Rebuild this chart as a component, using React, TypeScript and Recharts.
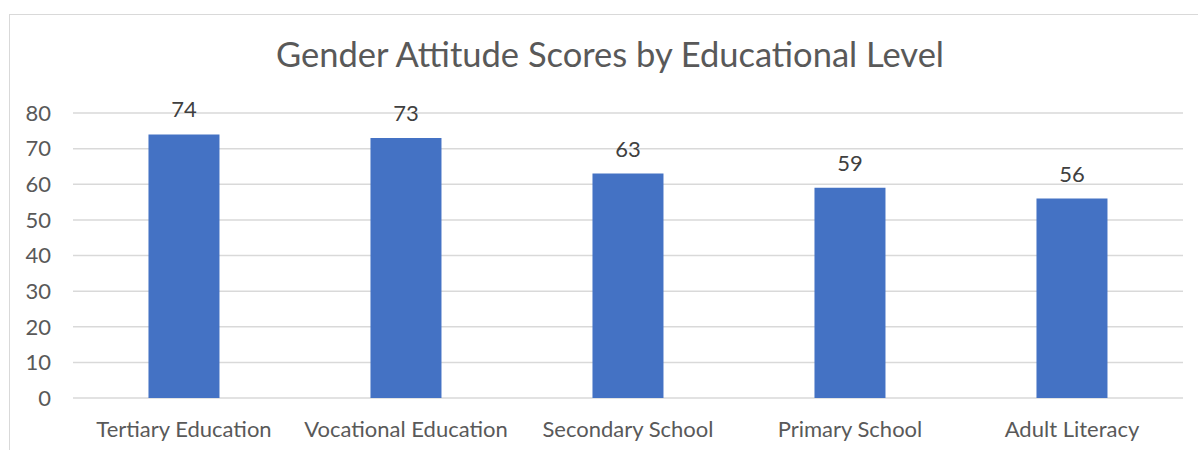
import { Bar, BarChart, CartesianGrid, LabelList, XAxis, YAxis } from 'recharts'

const levels = [
  'Tertiary Education',
  'Vocational Education',
  'Secondary School',
  'Primary School',
  'Adult Literacy',
]
const scores = [74, 73, 63, 59, 56]
const yTicks = [0, 10, 20, 30, 40, 50, 60, 70, 80]

const data = levels.map((level, i) => ({ level, score: scores[i] }))

const FONT = 'Lato, "Open Sans", sans-serif'
const TEXT = '#595959'

export default function App() {
  return (
    <div
      style={{
        position: 'absolute',
        left: 0,
        top: 0,
        width: 1198,
        height: 450,
        background: '#fff',
        overflow: 'hidden',
        fontFamily: FONT,
      }}
    >
      {/* chart frame, cropped on the right and bottom */}
      <div
        style={{
          position: 'absolute',
          left: 9,
          top: 14,
          width: 1300,
          height: 500,
          borderLeft: '1px solid #d9d9d9',
          borderTop: '1px solid #d9d9d9',
        }}
      />
      <div
        style={{
          position: 'absolute',
          left: 10,
          width: 1200,
          top: 33,
          textAlign: 'center',
          fontSize: 34.5,
          color: TEXT,
          whiteSpace: 'nowrap',
        }}
      >
        Gender Attitude Scores by Educational Level
      </div>
      <div style={{ position: 'absolute', left: 0, top: 0 }}>
        <BarChart
          width={1198}
          height={450}
          data={data}
          margin={{ top: 113, right: 15, bottom: 0, left: 0 }}
          barCategoryGap="34%"
        >
          <CartesianGrid vertical={false} stroke="#d9d9d9" strokeWidth={1.5} />
          <XAxis
            dataKey="level"
            axisLine={false}
            tickLine={false}
            height={52}
            tickMargin={17}
            interval={0}
            tick={{ fill: TEXT, fontSize: 22, fontFamily: FONT }}
          />
          <YAxis
            width={73}
            domain={[0, 80]}
            ticks={yTicks}
            axisLine={false}
            tickLine={false}
            tickMargin={16}
            tick={{ fill: TEXT, fontSize: 22, fontFamily: FONT }}
          />
          <Bar dataKey="score" fill="#4472C4" isAnimationActive={false}>
            <LabelList
              dataKey="score"
              position="top"
              offset={17}
              fill="#404040"
              fontSize={22}
              fontFamily={FONT}
            />
          </Bar>
        </BarChart>
      </div>
    </div>
  )
}
